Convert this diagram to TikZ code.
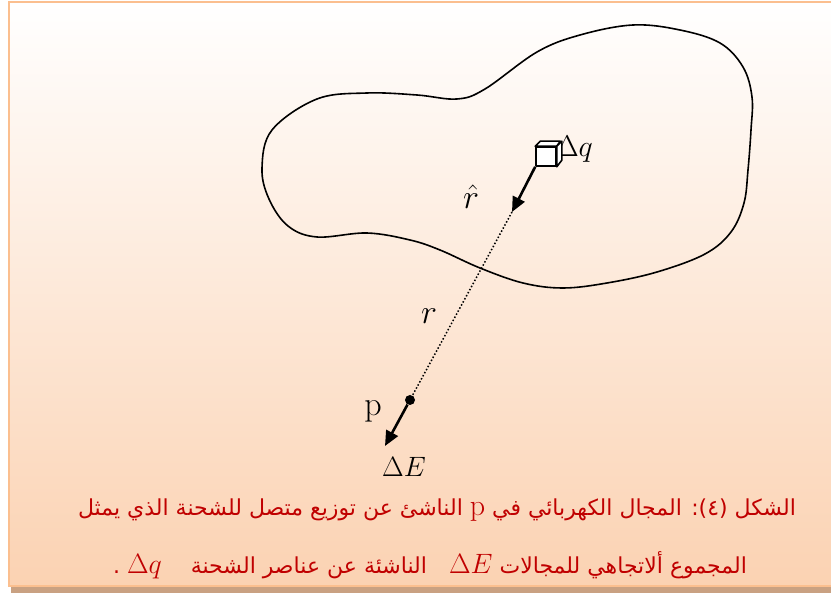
\RequirePackage{fix-cm}
\documentclass[tikz,border=0pt]{standalone}
\usepackage{fontspec}
\usetikzlibrary{arrows.meta}
\newfontfamily\arabicfont[Script=Arabic]{DejaVu Sans}
\TeXXeTstate=1
\definecolor{framepeach}{HTML}{FBD2B2}
\definecolor{frameline}{HTML}{FBBF8F}
\definecolor{frameshadow}{HTML}{C9A182}
\definecolor{captionred}{HTML}{C00000}

\begin{document}
\begin{tikzpicture}[x=1pt, y=-1pt,
        vecarrow/.style={-{Triangle[length=15pt, width=13pt]}, line width=2.6pt},
        ptnode/.style={circle, fill=black, inner sep=0pt, minimum size=10pt},
        facebox/.style={draw, fill=white, line width=1.6pt, line join=round},
        mathlabel/.style={inner sep=0pt, font=\fontsize{30}{34}\selectfont},
        captionline/.style={inner sep=0pt, text=captionred, font=\arabicfont\fontsize{22}{26}\selectfont},
        ]
            \useasboundingbox (0,0) rectangle (831,593);
            \fill[frameshadow] (11,586) rectangle (831,593);
            \shade[top color=white, bottom color=framepeach, draw=frameline, line width=2pt] (9,2) rectangle (840,586);

            \draw[line width=1.6pt] plot[smooth cycle, tension=0.6] coordinates {
                (262,168) (272,130) (317,99) (367,93) (417,95) (457,99)
                (485,89) (537,52) (580,35) (633,25) (680,30) (720,43) (743,67)
                (752,97) (751,130) (748,170) (744,203) (731,232) (705,254) (657,272)
                (607,283) (563,288) (523,283) (480,268) (440,250) (410,240) (367,233)
                (317,237) (288,226) (269,199)};

            \node[mathlabel, anchor=east] at(593,149) (dq) {$\Delta q$};
            \node[facebox, minimum width=20pt, minimum height=19pt, inner sep=0pt] at(546,156.5) (cube) {};
            \draw[facebox] (cube.north west) -- ++(5,-5) -- ++(20,0) -- (cube.north east) -- cycle;
            \draw[facebox] (cube.north east) -- ++(5,-5) -- ++(0,19) -- (cube.south east) -- cycle;

            \coordinate (rtip) at(512,212);
            \node[ptnode] at(410,400) (p) {};
            \coordinate (etip) at(385,446);

            \node[mathlabel, font=\fontsize{34}{38}\selectfont] at(471,197) (rhat) {$\hat{r}$};
            \node[mathlabel, font=\fontsize{34}{38}\selectfont] at(429,316) (r) {$r$};
            \node[mathlabel, font=\fontsize{34}{38}\selectfont] at(373,411) (plabel) {p};
            \node[mathlabel, font=\fontsize{28}{32}\selectfont] at(404,467) (dE) {$\Delta E$};

            \draw[vecarrow] (cube.south west) -- (rtip);
            \draw[dotted, line width=1.5pt] (rtip) -- (p);
            \draw[vecarrow] (p) -- (etip);

            \node[captionline] at(437,510) (cap1) {\beginR الشكل (٤): المجال الكهربائي في {\rmfamily\fontsize{30}{32}\selectfont p} الناشئ عن توزيع متصل للشحنة الذي يمثل\endR};
            \node[captionline] at(430,565) (cap2) {\beginR المجموع ألاتجاهي للمجالات \mbox{\fontsize{28}{30}\selectfont$\Delta E$}\quad الناشئة عن عناصر الشحنة \quad\mbox{\fontsize{28}{30}\selectfont$\Delta q$} .\endR};
\end{tikzpicture}
\end{document}
